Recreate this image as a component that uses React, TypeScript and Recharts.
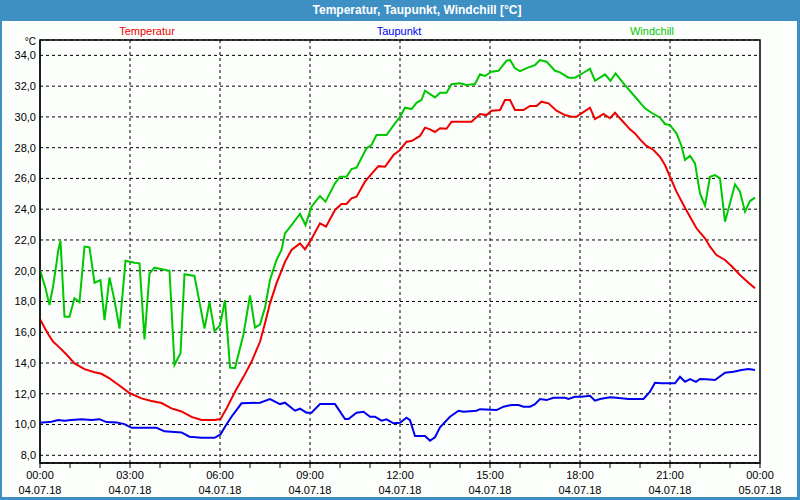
import React from 'react';
import {
  CartesianGrid,
  Line,
  LineChart,
  ReferenceArea,
  ReferenceLine,
  XAxis,
  YAxis,
} from 'recharts';

// Minutes since 04.07.18 00:00 and values in °C.
const TEMP_T = [0, 15, 26, 36, 53, 69, 89, 109, 123, 139, 156, 179, 203, 223, 243, 263, 283, 303, 323, 349, 361, 374, 390, 407, 423, 440, 450, 460, 473, 490, 503, 520, 530, 540, 560, 572, 590, 603, 613, 623, 633, 650, 667, 677, 690, 707, 720, 733, 743, 760, 770, 780, 790, 800, 813, 823, 863, 880, 893, 903, 920, 930, 940, 950, 967, 980, 993, 1003, 1017, 1033, 1050, 1063, 1073, 1083, 1100, 1110, 1127, 1140, 1150, 1163, 1180, 1190, 1200, 1213, 1227, 1240, 1250, 1260, 1273, 1287, 1300, 1313, 1330, 1340, 1353, 1370, 1383, 1400, 1417, 1430];
const TEMP_V = [16.85, 15.95, 15.4, 15.1, 14.55, 13.97, 13.6, 13.4, 13.3, 13.0, 12.6, 12.05, 11.7, 11.53, 11.4, 11.05, 10.85, 10.5, 10.3, 10.3, 10.36, 11.1, 12.13, 13.1, 14.08, 15.38, 16.58, 17.88, 19.18, 20.58, 21.35, 21.78, 21.39, 21.89, 23.08, 22.86, 23.95, 24.34, 24.34, 24.71, 24.81, 25.79, 26.44, 26.8, 26.76, 27.52, 27.85, 28.39, 28.43, 28.76, 29.3, 29.19, 29.02, 29.26, 29.23, 29.69, 29.69, 30.19, 30.12, 30.4, 30.45, 31.1, 31.1, 30.45, 30.45, 30.71, 30.71, 30.99, 30.88, 30.4, 30.12, 30.01, 30.01, 30.23, 30.6, 29.86, 30.19, 29.91, 30.27, 29.8, 29.19, 28.93, 28.54, 28.11, 27.85, 27.41, 26.87, 26.11, 25.14, 24.27, 23.51, 22.76, 22.11, 21.56, 21.02, 20.7, 20.31, 19.72, 19.22, 18.86];

const DEW_T = [0, 23, 36, 49, 63, 83, 103, 119, 133, 153, 169, 183, 233, 249, 283, 299, 323, 349, 361, 370, 383, 403, 440, 460, 480, 490, 510, 520, 533, 543, 560, 590, 610, 617, 633, 647, 660, 670, 683, 693, 707, 720, 733, 740, 750, 770, 780, 790, 800, 820, 837, 847, 873, 880, 913, 927, 943, 957, 967, 980, 990, 1000, 1013, 1027, 1050, 1057, 1070, 1083, 1100, 1110, 1120, 1140, 1153, 1177, 1207, 1220, 1230, 1243, 1270, 1280, 1290, 1300, 1312, 1320, 1333, 1350, 1370, 1387, 1403, 1417, 1430];
const DEW_V = [10.12, 10.18, 10.29, 10.25, 10.29, 10.34, 10.29, 10.35, 10.16, 10.14, 10.03, 9.79, 9.79, 9.56, 9.49, 9.21, 9.14, 9.14, 9.36, 9.86, 10.51, 11.38, 11.42, 11.66, 11.33, 11.42, 10.9, 11.03, 10.77, 10.77, 11.33, 11.33, 10.36, 10.36, 10.77, 10.83, 10.51, 10.51, 10.25, 10.34, 10.08, 10.12, 10.44, 10.29, 9.25, 9.25, 8.95, 9.17, 9.82, 10.51, 10.9, 10.83, 10.9, 11.0, 10.94, 11.16, 11.27, 11.27, 11.16, 11.16, 11.33, 11.66, 11.59, 11.74, 11.74, 11.66, 11.81, 11.81, 11.87, 11.55, 11.66, 11.77, 11.74, 11.66, 11.66, 12.13, 12.72, 12.68, 12.68, 13.1, 12.78, 12.96, 12.78, 12.96, 12.94, 12.89, 13.37, 13.43, 13.54, 13.61, 13.54];

const CHILL_T = [0, 11, 19, 26, 33, 36, 41, 49, 59, 69, 79, 89, 99, 109, 121, 129, 139, 149, 159, 171, 189, 199, 209, 219, 229, 259, 269, 281, 289, 309, 329, 339, 349, 360, 370, 380, 390, 407, 420, 430, 440, 450, 460, 473, 483, 490, 503, 520, 531, 543, 560, 571, 590, 600, 613, 623, 633, 653, 663, 673, 693, 710, 720, 730, 743, 753, 763, 770, 790, 800, 813, 823, 840, 853, 870, 880, 890, 903, 917, 933, 940, 950, 960, 977, 990, 1000, 1013, 1030, 1040, 1057, 1070, 1087, 1100, 1110, 1130, 1141, 1151, 1170, 1190, 1210, 1223, 1240, 1250, 1260, 1273, 1283, 1290, 1300, 1310, 1320, 1330, 1340, 1350, 1360, 1370, 1380, 1390, 1400, 1410, 1420, 1430];
const CHILL_V = [20.04, 18.86, 17.77, 18.96, 20.48, 21.24, 21.95, 17.01, 17.01, 18.21, 17.95, 21.57, 21.52, 19.22, 19.39, 16.79, 19.57, 18.08, 16.24, 20.65, 20.52, 20.48, 15.54, 19.83, 20.2, 20.0, 13.87, 14.63, 19.77, 19.66, 16.24, 17.97, 16.07, 16.45, 18.08, 13.7, 13.67, 15.87, 18.4, 16.3, 16.5, 17.6, 19.4, 20.7, 21.35, 22.43, 22.97, 23.69, 22.97, 24.16, 24.86, 24.49, 25.68, 26.11, 26.11, 26.61, 26.7, 27.96, 28.17, 28.82, 28.82, 29.58, 30.01, 30.6, 30.51, 30.92, 31.1, 31.7, 31.27, 31.57, 31.57, 32.12, 32.18, 32.07, 32.14, 32.77, 32.66, 32.94, 33.0, 33.65, 33.7, 33.16, 32.98, 33.22, 33.37, 33.7, 33.59, 33.0, 32.9, 32.55, 32.55, 32.87, 33.13, 32.35, 32.77, 32.35, 32.83, 32.07, 31.31, 30.56, 30.27, 29.95, 29.54, 29.47, 28.93, 28.11, 27.2, 27.48, 26.98, 25.03, 24.23, 26.11, 26.22, 26.0, 23.19, 24.38, 25.62, 25.14, 23.84, 24.53, 24.75];

const HOUR_TICKS = [0, 60, 120, 180, 240, 300, 360, 420, 480, 540, 600, 660, 720, 780, 840, 900, 960, 1020, 1080, 1140, 1200, 1260, 1320, 1380, 1440];
const MAJOR_TICKS = [180, 360, 540, 720, 900, 1080, 1260];
const Y_TICKS = [8, 10, 12, 14, 16, 18, 20, 22, 24, 26, 28, 30, 32, 34];

const zip = (ts: number[], vs: number[]) => ts.map((t, i) => ({ t, v: vs[i] }));
const tempData = zip(TEMP_T, TEMP_V);
const dewData = zip(DEW_T, DEW_V);
const chillData = zip(CHILL_T, CHILL_V);

const FONT = '"Liberation Sans", Arial, sans-serif';
const FRAME = '#3d8fc4';

function TimeTick({ x, y, payload }: any) {
  const v: number = payload.value;
  if (v % 180 !== 0) return null;
  const hh = String((v / 60) % 24).padStart(2, '0');
  const date = v >= 1440 ? '05.07.18' : '04.07.18';
  return (
    <text x={x} y={y + 9} textAnchor="middle" fontSize={11} fontFamily={FONT} fill="#000">
      <tspan x={x}>{hh}:00</tspan>
      <tspan x={x} dy={15}>{date}</tspan>
    </text>
  );
}

export default function App() {
  return (
    <div
      style={{
        position: 'fixed',
        left: 0,
        top: 0,
        width: 800,
        height: 500,
        background: FRAME,
        fontFamily: FONT,
      }}
    >
      <div
        style={{
          position: 'absolute',
          left: 0,
          top: 0,
          width: 834,
          height: 21,
          lineHeight: '21px',
          textAlign: 'center',
          color: '#fff',
          fontWeight: 'bold',
          fontSize: 12,
        }}
      >
        Temperatur, Taupunkt, Windchill [°C]
      </div>
      <div
        style={{
          position: 'absolute',
          left: 2,
          top: 21,
          width: 795,
          height: 476,
          background: '#fcfefc',
        }}
      />
      <LineChart
        width={800}
        height={500}
        margin={{ top: 40, right: 40, left: 0, bottom: 7 }}
        style={{ position: 'absolute', left: 0, top: 0 }}
      >
        <CartesianGrid vertical={false} stroke="#000" strokeDasharray="3 3" />
        <XAxis
          dataKey="t"
          type="number"
          domain={[0, 1440]}
          ticks={HOUR_TICKS}
          interval={0}
          height={30}
          tickSize={5}
          tickMargin={2}
          stroke="#000"
          tick={<TimeTick />}
          allowDataOverflow
        />
        <YAxis
          type="number"
          domain={[7.5, 35]}
          ticks={Y_TICKS}
          interval={0}
          width={40}
          tickLine={false}
          tickSize={0}
          tickMargin={4}
          stroke="#000"
          tick={{ fontSize: 11, fontFamily: FONT, fill: '#000' }}
          tickFormatter={(v: number) => v.toFixed(1).replace('.', ',')}
          allowDataOverflow
        />
        {MAJOR_TICKS.map((t) => (
          <ReferenceLine key={t} x={t} stroke="#000" strokeDasharray="3 3" />
        ))}
        <ReferenceArea x1={0} x2={1440} y1={7.5} y2={35} fill="none" stroke="#000" strokeWidth={1.5} />
        <Line data={tempData} dataKey="v" type="linear" stroke="#ee0000" strokeWidth={2} dot={false} isAnimationActive={false} />
        <Line data={dewData} dataKey="v" type="linear" stroke="#0000ee" strokeWidth={2} dot={false} isAnimationActive={false} />
        <Line data={chillData} dataKey="v" type="linear" stroke="#00c800" strokeWidth={2} dot={false} isAnimationActive={false} />
      </LineChart>
      <div style={{ position: 'absolute', left: 0, top: 37, width: 36, textAlign: 'right', fontSize: 10, lineHeight: '10px', color: '#000' }}>
        °C
      </div>
      {[
        { name: 'Temperatur', color: '#ee0000', cx: 147 },
        { name: 'Taupunkt', color: '#0000ee', cx: 399 },
        { name: 'Windchill', color: '#00c800', cx: 652 },
      ].map((l) => (
        <div
          key={l.name}
          style={{
            position: 'absolute',
            left: l.cx,
            top: 24,
            transform: 'translateX(-50%)',
            fontSize: 11,
            lineHeight: '14px',
            color: l.color,
            whiteSpace: 'nowrap',
          }}
        >
          {l.name}
        </div>
      ))}
    </div>
  );
}
